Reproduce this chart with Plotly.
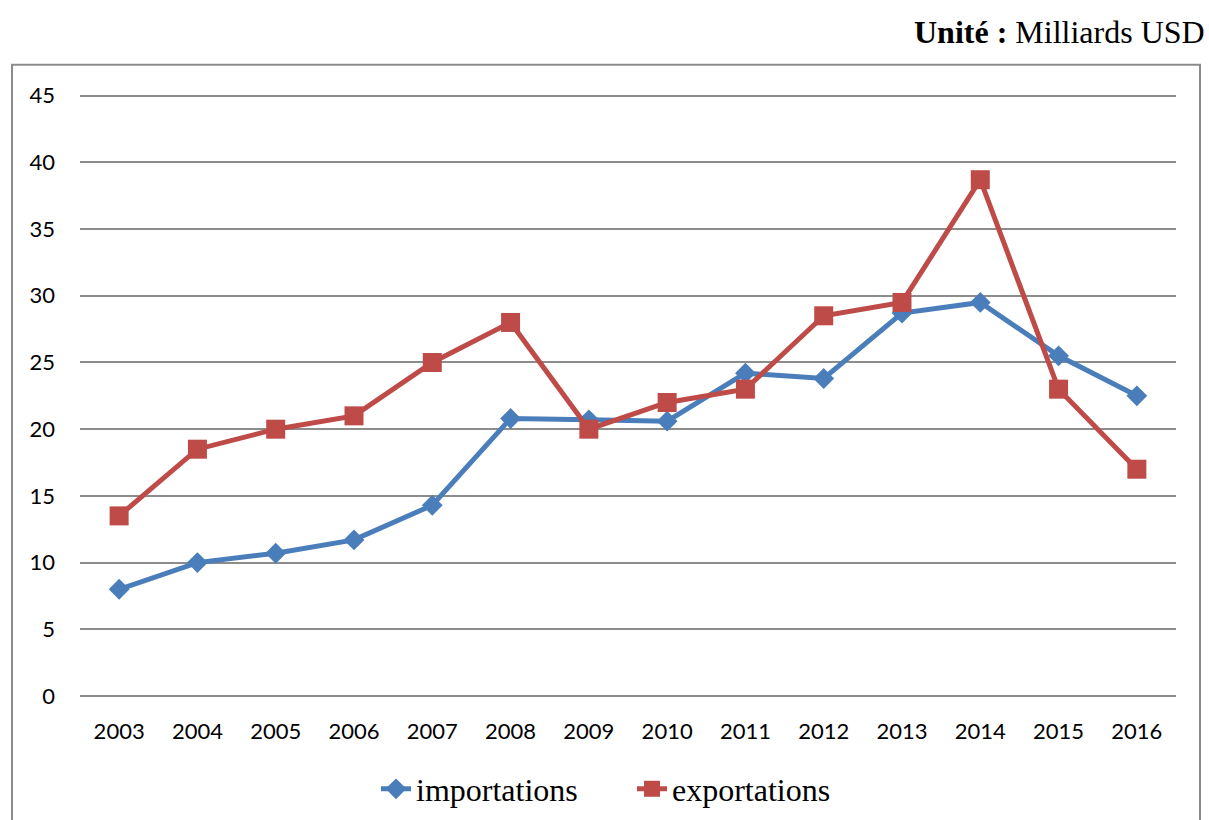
import plotly.graph_objects as go

years = ["2003", "2004", "2005", "2006", "2007", "2008", "2009", "2010",
         "2011", "2012", "2013", "2014", "2015", "2016"]
importations = [8.0, 10.0, 10.7, 11.7, 14.3, 20.8, 20.7, 20.6, 24.2, 23.8, 28.7, 29.5, 25.5, 22.5]
exportations = [13.5, 18.5, 20.0, 21.0, 25.0, 28.0, 20.0, 22.0, 23.0, 28.5, 29.5, 38.7, 23.0, 17.0]
y_ticks = [0, 5, 10, 15, 20, 25, 30, 35, 40, 45]

BLUE = "#4A7EBB"
RED = "#BE4B48"

fig = go.Figure()
fig.add_trace(go.Scatter(
    x=years, y=importations, name="importations", mode="lines+markers",
    line=dict(color=BLUE, width=5),
    marker=dict(symbol="diamond", size=16, color=BLUE),
))
fig.add_trace(go.Scatter(
    x=years, y=exportations, name="exportations", mode="lines+markers",
    line=dict(color=RED, width=5),
    marker=dict(symbol="square", size=19, color=RED),
))

W, H = 1209, 820
Y_TOP = 45.2
unit_px = 600 / 45
L, R, B = 80, 33, 124
T = H - B - Y_TOP * unit_px
pw, ph = W - L - R, H - T - B

def px(x):
    return (x - L) / pw

def py(y):
    return (H - B - y) / ph

fig.update_layout(
    width=W, height=H,
    margin=dict(l=L, r=R, t=T, b=B, autoexpand=False),
    paper_bgcolor="white", plot_bgcolor="white",
    showlegend=True,
    legend=dict(
        orientation="h", x=px(632), xanchor="center", y=py(789), yanchor="middle",
        font=dict(family="Liberation Serif", size=32, color="black"),
        entrywidth=211, entrywidthmode="pixels",
    ),
    xaxis=dict(
        type="category", range=[-0.5, 13.5], showgrid=False, zeroline=False,
        showline=False, ticks="",
        tickfont=dict(family="Lato", size=22, color="black"),
        ticklabelstandoff=20,
    ),
    yaxis=dict(
        range=[0, Y_TOP], tickvals=y_ticks, showgrid=True, gridcolor="#8C8C8C",
        gridwidth=2, zeroline=True, zerolinecolor="#8C8C8C", zerolinewidth=2,
        showline=False, ticks="",
        tickfont=dict(family="Lato", size=22, color="black"),
        ticklabelstandoff=24,
    ),
    shapes=[dict(
        type="rect", xref="paper", yref="paper",
        x0=px(12), x1=px(1200), y0=py(840), y1=py(65),
        line=dict(color="#8C8C8C", width=2), fillcolor="rgba(0,0,0,0)",
        layer="below",
    )],
    annotations=[dict(
        text="<b>Unité :</b> Milliards USD", xref="paper", yref="paper",
        x=px(1207), y=py(32), xanchor="right", yanchor="middle",
        showarrow=False,
        font=dict(family="Liberation Serif", size=32, color="black"),
    )],
)

fig.write_html("out.html", config={"displayModeBar": False},
               post_script="document.body.style.margin='0';")
